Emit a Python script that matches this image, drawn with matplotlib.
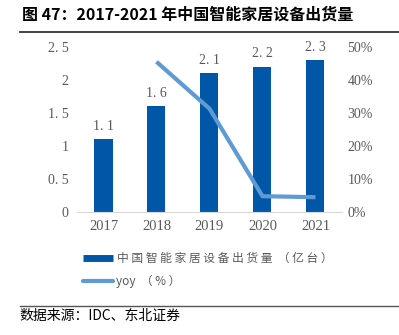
import matplotlib
matplotlib.use("Agg")
import matplotlib.pyplot as plt
from matplotlib.lines import Line2D
from matplotlib.ticker import FuncFormatter

plt.rcParams["font.family"] = ["Noto Sans CJK SC", "DejaVu Sans"]

years = ["2017", "2018", "2019", "2020", "2021"]
shipments = [1.1, 1.6, 2.1, 2.2, 2.3]          # 亿台
yoy = [None, 45.5, 31.3, 4.8, 4.5]              # %
left_ticks = [0, 0.5, 1, 1.5, 2, 2.5]
left_labels = ["0", "0. 5", "1", "1. 5", "2", "2. 5"]
right_ticks = [0, 10, 20, 30, 40, 50]

bar_color = "#0057A8"
line_color = "#5E9AD3"
text_grey = "#595959"
num_font = ["Liberation Serif", "DejaVu Serif"]


def spaced(s):
    # the source renders legend text with wide letter spacing
    return " ".join(s)


fig = plt.figure(figsize=(3.99, 3.35), dpi=100)
ax = fig.add_axes([0.193, 0.367, 0.664, 0.493])

x = list(range(len(years)))
ax.bar(x, shipments, width=0.34, color=bar_color, zorder=2)
for xi, v in zip(x, shipments):
    ax.text(xi, v + 0.1, f"{v:.1f}".replace(".", ". "), ha="center", va="bottom",
            fontsize=10, color=text_grey, family=num_font)

ax.set_xlim(-0.5, 4.5)
ax.set_ylim(0, 2.5)
ax.set_yticks(left_ticks)
ax.set_yticklabels(left_labels, family=num_font, fontsize=10, color=text_grey)
ax.set_xticks(x)
ax.set_xticklabels(years, family=num_font, fontsize=10.5, color=text_grey)
ax.tick_params(length=0, pad=6)
for s in ["top", "left", "right"]:
    ax.spines[s].set_visible(False)
ax.spines["bottom"].set_color("#D9D9D9")

ax2 = ax.twinx()
xs = [xi for xi, v in zip(x, yoy) if v is not None]
ys = [v for v in yoy if v is not None]
ax2.plot(xs, ys, color=line_color, lw=3, solid_capstyle="butt", zorder=3)
ax2.set_ylim(0, 50)
ax2.set_yticks(right_ticks)
ax2.yaxis.set_major_formatter(FuncFormatter(lambda v, p: f"{v:.0f}%"))
for lab in ax2.get_yticklabels():
    lab.set_family(num_font)
ax2.tick_params(length=0, pad=4, labelsize=10, labelcolor=text_grey)
for s in ax2.spines.values():
    s.set_visible(False)

# title and rules
fig.text(0.055, 0.955, "图 47：2017-2021 年中国智能家居设备出货量", fontsize=11.5,
         fontweight="bold", va="center", ha="left")
fig.add_artist(Line2D([0.05, 1.0], [0.905, 0.905], color="#333333", lw=1.3))
fig.add_artist(Line2D([0.05, 1.0], [0.087, 0.087], color="#555555", lw=1.0))
fig.text(0.05, 0.057, "数据来源：IDC、东北证券", fontsize=10, va="center", ha="left")

# legend
fig.add_artist(Line2D([0.208, 0.283], [0.23, 0.23], color=bar_color, lw=5,
                      solid_capstyle="butt"))
fig.text(0.293, 0.23, spaced("中国智能家居设备出货量") + "  " + spaced("（亿台）"),
         fontsize=8.5, color=text_grey, va="center", ha="left")
fig.add_artist(Line2D([0.208, 0.283], [0.161, 0.161], color=line_color, lw=3,
                      solid_capstyle="round"))
fig.text(0.29, 0.161, "yoy  " + spaced("（%）"), fontsize=8.5, color=text_grey,
         va="center", ha="left")

fig.savefig("out.png", dpi=100)
